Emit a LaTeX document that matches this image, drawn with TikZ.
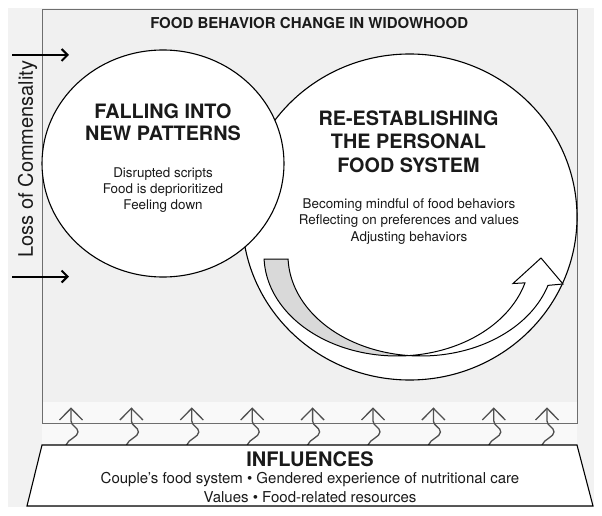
\documentclass[tikz,border=0pt]{standalone}
\usepackage{fontspec}
\setmainfont{TeX Gyre Heros}
\usetikzlibrary{arrows.meta}
\definecolor{bggrey}{HTML}{F2F2F2}
\definecolor{framefill}{HTML}{F0F0F0}
\definecolor{bandfill}{HTML}{F9F9F9}
\definecolor{framecol}{HTML}{6E6E6E}
\definecolor{tailgrey}{HTML}{D9D9D9}
\definecolor{squig}{HTML}{505050}
\definecolor{txt}{HTML}{1A1A1A}
\begin{document}
\begin{tikzpicture}[x=1pt,y=-1pt,
  outline/.style={draw=black,line width=1.1pt},
  headtxt/.style={text=txt,font=\bfseries\fontsize{19.8}{22}\selectfont,anchor=base,inner sep=0pt},
  bodytxt/.style={text=txt,font=\fontsize{13.4}{16}\selectfont,anchor=base,inner sep=0pt},
  inftxt/.style={text=txt,font=\fontsize{15}{18}\selectfont,anchor=base,inner sep=0pt},
  lossarrow/.style={-{Straight Barb[length=6pt,width=12pt,line width=2pt]},line width=2pt,black},
  squiggle/.style={draw=squig,line width=1.3pt}
]
\useasboundingbox (0,0) rectangle (602,516);
\fill[white] (0,0) rectangle (602,516);
\fill[bggrey] (8,8) rectangle (594,507);
% frame
\fill[framefill] (42,9.5) rectangle (577,423);
\fill[bandfill] (42,402) rectangle (577,445);
\draw[framecol,line width=0.9pt] (42,9.5) rectangle (577,423);
\node[text=txt,font=\bfseries\fontsize{15}{18}\selectfont,anchor=base,inner sep=0pt] (title) at (309.2,28.3) {FOOD BEHAVIOR CHANGE IN WIDOWHOOD};
% right circle
\filldraw[outline,fill=white] (409.6,217) ellipse [x radius=167.4, y radius=163];
% curved arrow: grey tail
\filldraw[draw=black,line width=1pt,fill=tailgrey]
  plot[domain=178:84.8,samples=50,variable=\t] ({397+133*cos(\t)},{255.5+100.5*sin(\t)})
  -- plot[domain=95.2:178,samples=50,variable=\t] ({421+133*cos(\t)},{255.5+100.5*sin(\t)}) -- cycle;
% curved arrow: white shaft and head
\filldraw[draw=black,line width=1pt,fill=white,line join=miter]
  plot[domain=84.8:15.8,samples=50,variable=\t] ({397+133*cos(\t)},{255.5+100.5*sin(\t)})
  -- (513,283.5) -- (541,258) -- (563,284)
  -- plot[domain=17.3:95.2,samples=50,variable=\t] ({421+133*cos(\t)},{255.5+100.5*sin(\t)}) -- cycle;
% left circle
\filldraw[outline,fill=white] (163,163.5) ellipse [x radius=121, y radius=113.5];
% left texts
\node[headtxt] (fall1) at (163,118.3) {FALLING INTO};
\node[headtxt] (fall2) at (163,140) {NEW PATTERNS};
\node[bodytxt] (fallb1) at (163,177.3) {Disrupted scripts};
\node[bodytxt] (fallb2) at (163,193) {Food is deprioritized};
\node[bodytxt] (fallb3) at (163,209) {Feeling down};
% right texts
\node[headtxt] (re1) at (408.5,126) {RE-ESTABLISHING};
\node[headtxt] (re2) at (408.5,149) {THE PERSONAL};
\node[headtxt] (re3) at (408.5,172.5) {FOOD SYSTEM};
\node[bodytxt] (reb1) at (409,208.5) {Becoming mindful of food behaviors};
\node[bodytxt] (reb2) at (409,224.8) {Reflecting on preferences and values};
\node[bodytxt] (reb3) at (409,241) {Adjusting behaviors};
% loss of commensality
\node[text=txt,font=\fontsize{20}{24}\selectfont,rotate=90,inner sep=0pt] (loss) at (27.5,159) {Loss of Commensality};
\coordinate (la1s) at (12,55);
\coordinate (la1e) at (69,55);
\coordinate (la2s) at (12,276.5);
\coordinate (la2e) at (69,276.5);
\draw[lossarrow] (la1s) -- (la1e);
\draw[lossarrow] (la2s) -- (la2e);
% influence arrows
\foreach \x in {71,131.4,191.8,252.2,312.6,373,433.4,493.8,547}{
  \draw[squiggle,line join=miter] (\x-11.5,420) -- (\x,408.3) -- (\x+11.5,420);
  \draw[squiggle] (\x,408.3) -- (\x,421) .. controls (\x,426) and (\x+7,427) .. (\x+7,432)
     .. controls (\x+7,437) and (\x-3,439) .. (\x-5,445);
}
% influences trapezoid
\filldraw[outline,fill=white] (42,445) -- (577,445) -- (593,506) -- (27,506) -- cycle;
\node[text=txt,font=\bfseries\fontsize{20}{24}\selectfont,anchor=base,inner sep=0pt] (inf) at (310,466) {INFLUENCES};
\node[inftxt] (inf1) at (310,483.5) {Couple’s food system • Gendered experience of nutritional care};
\node[inftxt] (inf2) at (310,502) {Values • Food-related resources};
\end{tikzpicture}
\end{document}
